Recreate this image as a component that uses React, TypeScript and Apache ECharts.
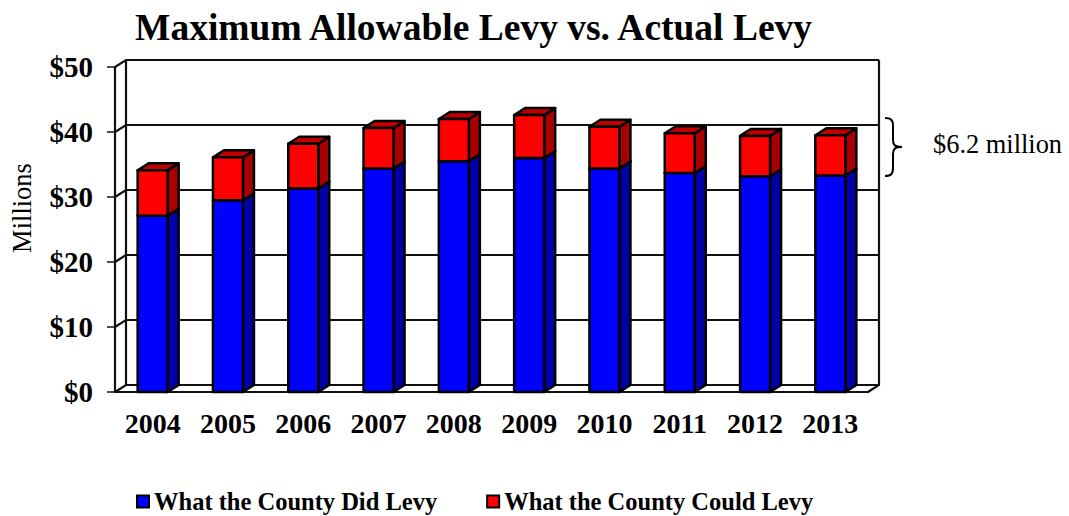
import React, { useEffect, useRef } from "react";
import * as echarts from "echarts";

const years = ["2004", "2005", "2006", "2007", "2008", "2009", "2010", "2011", "2012", "2013"];
const didLevy = [27.1, 29.5, 31.3, 34.4, 35.5, 36.0, 34.4, 33.7, 33.2, 33.3];
const couldLevy = [7.0, 6.6, 6.9, 6.2, 6.5, 6.6, 6.4, 6.1, 6.2, 6.2];
const wallTicks = [0, 10, 20, 30, 40, 50];

const FONT = '"Liberation Serif", serif';
const INK = "#111111";
const DX = 11;
const DY = 7;
const BAR_W = 30;

echarts.graphic.registerShape(
  "levyBrace",
  echarts.graphic.extendPath(
    "M885 118 C891 118 893 120 893 126 L893 140 C893 145 895 147 902 147 C895 147 893 149 893 154 L893 168 C893 174 891 176 885 176",
    {}
  )
);

function bar3d(front: string, side: string, top: string) {
  return (params: any, api: any) => {
    const i = api.value(0);
    const [cx, yLow] = api.coord([i, api.value(1)]);
    const [, yHigh] = api.coord([i, api.value(2)]);
    const x0 = cx - BAR_W / 2;
    const x1 = cx + BAR_W / 2;
    const style = { stroke: "#000", lineWidth: 2.5, lineJoin: "round" };
    return {
      type: "group",
      children: [
        {
          type: "polygon",
          shape: { points: [[x1, yHigh], [x1 + DX, yHigh - DY], [x1 + DX, yLow - DY], [x1, yLow]] },
          style: { ...style, fill: side },
        },
        {
          type: "polygon",
          shape: { points: [[x0, yHigh], [x0 + DX, yHigh - DY], [x1 + DX, yHigh - DY], [x1, yHigh]] },
          style: { ...style, fill: top },
        },
        { type: "rect", shape: { x: x0, y: yHigh, width: BAR_W, height: yLow - yHigh }, style: { ...style, fill: front } },
      ],
    };
  };
}

function wall(params: any, api: any) {
  const v = api.value(1);
  const [, y] = api.coord([0, v]);
  const [, yZero] = api.coord([0, 0]);
  const left = params.coordSys.x;
  const right = left + params.coordSys.width;
  const line = { stroke: INK, lineWidth: 2.2, fill: "none" };
  const children: any[] = [
    {
      type: "polyline",
      shape: { points: [[left, y], [left + DX, y - DY], [right + DX, y - DY]] },
      style: line,
    },
  ];
  if (v === wallTicks[wallTicks.length - 1]) {
    children.push(
      { type: "line", shape: { x1: left + DX, y1: y - DY, x2: left + DX, y2: yZero - DY }, style: line },
      {
        type: "polyline",
        shape: { points: [[right + DX, y - DY], [right + DX, yZero - DY], [right, yZero]] },
        style: line,
      }
    );
  }
  return { type: "group", children };
}

export default function App() {
  const ref = useRef<HTMLDivElement>(null);
  useEffect(() => {
    const chart = echarts.init(ref.current!, null, { renderer: "svg" });
    const did = didLevy.map((v, i) => [i, 0, v]);
    const could = couldLevy.map((v, i) => [i, didLevy[i], didLevy[i] + v]);
    chart.setOption({
      animation: false,
      backgroundColor: "#fff",
      title: {
        text: "Maximum Allowable Levy vs. Actual Levy",
        left: 130,
        top: 3,
        textStyle: { fontFamily: FONT, fontWeight: "bold", fontSize: 37.5, color: "#000" },
      },
      grid: { left: 115, top: 67, width: 753, height: 325, outerBoundsMode: "none" },
      legend: {
        data: ["What the County Did Levy", "What the County Could Levy"],
        left: 131,
        top: 484,
        icon: "rect",
        itemWidth: 12,
        itemHeight: 12,
        itemGap: 49,
        selectedMode: false,
        textStyle: { fontFamily: FONT, fontWeight: "bold", fontSize: 24.5, color: "#000" },
      },
      xAxis: {
        type: "category",
        data: years,
        axisLine: { lineStyle: { color: INK, width: 2.2 } },
        axisTick: { length: 7, lineStyle: { color: INK, width: 1.5 } },
        axisLabel: { fontFamily: FONT, fontWeight: "bold", fontSize: 28, color: "#000", margin: 17 },
      },
      yAxis: {
        type: "value",
        min: 0,
        max: 50,
        interval: 10,
        axisLine: { show: true, lineStyle: { color: INK, width: 2.2 } },
        axisTick: { show: true, length: 8, lineStyle: { color: INK, width: 1.5 } },
        axisLabel: { fontFamily: FONT, fontWeight: "bold", fontSize: 29, color: "#000", margin: 22, formatter: "${value}" },
        splitLine: { show: false },
      },
      graphic: [
        {
          type: "levyBrace",
          style: { fill: "none", stroke: "#000", lineWidth: 2 },
        },
        {
          type: "text",
          left: 933,
          top: 131,
          style: { text: "$6.2 million", font: `26.4px ${FONT}`, fill: "#000" },
        },
        {
          type: "text",
          x: 22,
          y: 208,
          rotation: Math.PI / 2,
          style: { text: "Millions", font: `26.5px ${FONT}`, fill: "#000", align: "center", verticalAlign: "middle" },
        },
      ],
      series: [
        {
          type: "custom",
          name: "wall",
          silent: true,
          clip: false,
          z: 1,
          renderItem: wall,
          encode: { x: 0, y: 1 },
          data: wallTicks.map((t) => [0, t]),
        },
        {
          type: "custom",
          name: "What the County Did Levy",
          clip: false,
          z: 2,
          itemStyle: { color: "#0000ff", borderColor: "#000", borderWidth: 2 },
          renderItem: bar3d("#0000ff", "#0000a8", "#0000c0"),
          encode: { x: 0, y: [1, 2] },
          data: did,
        },
        {
          type: "custom",
          name: "What the County Could Levy",
          clip: false,
          z: 3,
          itemStyle: { color: "#ff0000", borderColor: "#000", borderWidth: 2 },
          renderItem: bar3d("#ff0000", "#a80000", "#c00000"),
          encode: { x: 0, y: [1, 2] },
          data: could,
        },
      ],
    });
    return () => chart.dispose();
  }, []);
  return <div ref={ref} style={{ position: "absolute", left: 0, top: 0, width: 1069, height: 516 }} />;
}
